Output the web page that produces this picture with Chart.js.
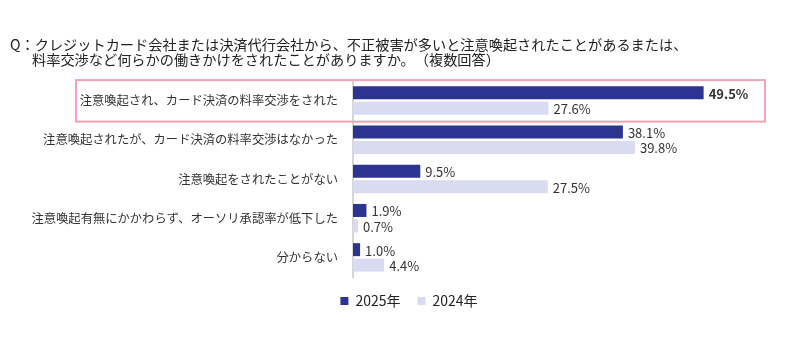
<!DOCTYPE html>
<html lang="ja">
<head>
<meta charset="utf-8">
<script src="https://cdn.jsdelivr.net/npm/chart.js@4.4.1/dist/chart.umd.min.js"></script>
<style>
  body { margin: 0; background: #fff; }
  #wrap { position: relative; width: 800px; height: 349px; }
  #question {
    position: absolute; left: 10px; top: 37px;
    font-family: "Noto Sans CJK JP", sans-serif;
    font-size: 14.2px; line-height: 15px; color: #222; white-space: nowrap;
    text-spacing-trim: space-all;
  }
  #question .line2 { padding-left: 22px; }
</style>
</head>
<body>
<div id="wrap">
  <canvas id="answer-chart"></canvas>
  <div id="question">
    <div>Q：クレジットカード会社または決済代行会社から、不正被害が多いと注意喚起されたことがあるまたは、</div>
    <div class="line2">料率交渉など何らかの働きかけをされたことがありますか。（複数回答）</div>
  </div>
</div>
<script>
const answerLabels = [
  "注意喚起され、カード決済の料率交渉をされた",
  "注意喚起されたが、カード決済の料率交渉はなかった",
  "注意喚起をされたことがない",
  "注意喚起有無にかかわらず、オーソリ承認率が低下した",
  "分からない",
];
const seriesNames = ["2025年", "2024年"];
const values2025 = [49.5, 38.1, 9.5, 1.9, 1.0];
const values2024 = [27.6, 39.8, 27.5, 0.7, 4.4];

const FONT = "'Noto Sans CJK JP', sans-serif";
Chart.defaults.font.family = FONT;

// percent label at the end of each bar
const valueLabels = {
  id: "valueLabels",
  afterDatasetsDraw(chart) {
    const ctx = chart.ctx;
    ctx.save();
    ctx.textAlign = "left";
    ctx.textBaseline = "middle";
    ctx.fillStyle = "#333";
    chart.data.datasets.forEach((ds, i) => {
      chart.getDatasetMeta(i).data.forEach((bar, j) => {
        const bold = i === 0 && j === 0;
        ctx.font = (bold ? "bold " : "") + "13px " + FONT;
        ctx.fillText(ds.data[j].toFixed(1) + "%", bar.x + 5, bar.y + 1);
      });
    });
    ctx.restore();
  },
};

// pink frame round the first answer
const highlightBox = {
  id: "highlightBox",
  afterDraw(chart) {
    const y = chart.scales.y.getPixelForValue(0);
    const ctx = chart.ctx;
    ctx.save();
    ctx.strokeStyle = "#F4A3B4";
    ctx.lineWidth = 2;
    ctx.strokeRect(76, y - 20.5, 689, 41.5);
    ctx.restore();
  },
};

// long category labels must not be clipped by the left padding
const unclipLabels = {
  id: "unclipLabels",
  afterLayout(chart) {
    chart.scales.y.left = 0;
  },
};

new Chart(document.getElementById("answer-chart"), {
  type: "bar",
  data: {
    labels: answerLabels,
    datasets: [
      {
        label: seriesNames[0],
        data: values2025,
        backgroundColor: "#2B3491",
      },
      {
        label: seriesNames[1],
        data: values2024,
        backgroundColor: "#D9DBF3",
      },
    ],
  },
  options: {
    indexAxis: "y",
    responsive: true,
    maintainAspectRatio: false,
    animation: false,
    categoryPercentage: 0.79,
    barPercentage: 0.84,
    layout: { padding: { top: 81, right: 22, bottom: 31, left: 40 } },
    scales: {
      x: { display: false, min: 0, max: 60 },
      y: {
        grid: { display: false, drawTicks: false },
        border: { display: true, color: "#D6D6D6", width: 2 },
        ticks: { color: "#333", font: { size: 12.3 }, padding: 15 },
        afterFit(scale) { scale.width = 313; },
      },
    },
    plugins: {
      tooltip: { enabled: false },
      legend: {
        position: "bottom",
        labels: {
          boxWidth: 8,
          boxHeight: 8,
          padding: 17,
          color: "#222",
          font: { size: 14 },
        },
      },
    },
  },
  plugins: [valueLabels, highlightBox, unclipLabels],
});
</script>
</body>
</html>
